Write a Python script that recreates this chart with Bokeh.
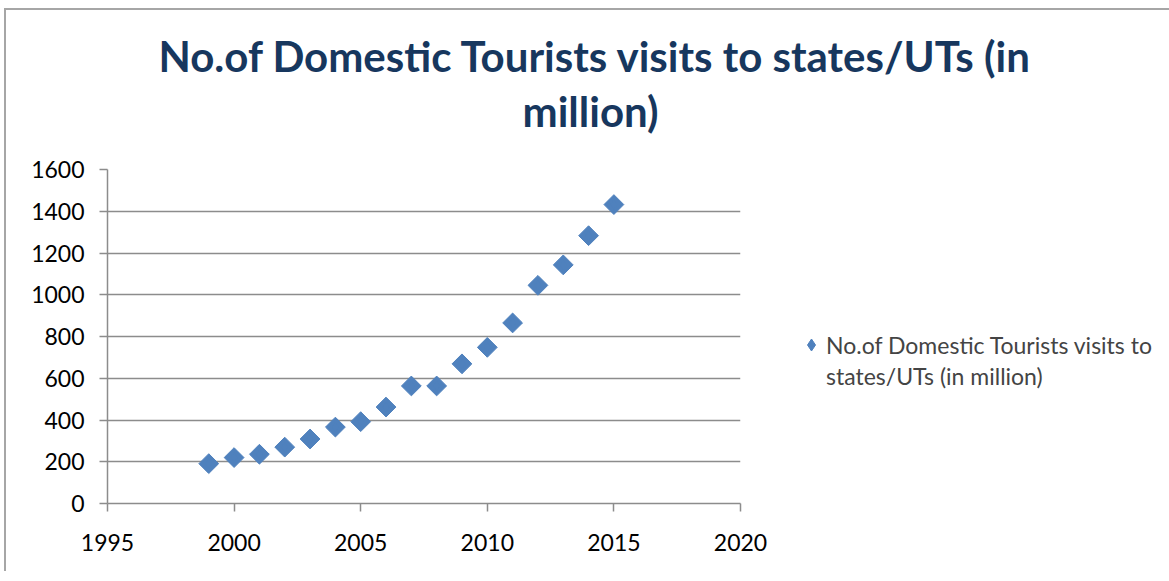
import math
from bokeh.plotting import figure
from bokeh.models import (Range1d, FixedTicker, Title, Legend, LegendItem,
                          ColumnDataSource)
from bokeh.embed import file_html
from bokeh.resources import INLINE

# ---- data ----
years = [1999, 2000, 2001, 2002, 2003, 2004, 2005, 2006, 2007, 2008,
         2009, 2010, 2011, 2012, 2013, 2014, 2015]
visits = [191, 220, 236, 270, 309, 366, 392, 462, 563, 563,
          669, 748, 865, 1045, 1143, 1283, 1432]
x_ticks = [1995, 2000, 2005, 2010, 2015, 2020]
y_ticks = [0, 200, 400, 600, 800, 1000, 1200, 1400, 1600]
legend_lines = ["No.of Domestic Tourists visits to", "states/UTs (in million)"]
title_lines = ["No.of Domestic Tourists visits to states/UTs (in", "million)"]

FONT = "Lato"
GRID = "#8c8c8c"
BLUE = "#4F81BD"

p = figure(frame_width=633, frame_height=334,
           min_border_left=101, min_border_right=420,
           min_border_top=159, min_border_bottom=68,
           x_range=Range1d(1995, 2020), y_range=Range1d(0, 1600),
           output_backend="svg", toolbar_location=None)
p.styles = {"border-left": "2px solid #a6a6a6", "border-top": "2px solid #a6a6a6",
            "margin-left": "4px", "margin-top": "8px"}
p.outline_line_color = None
p.xgrid.grid_line_color = None
p.ygrid.grid_line_color = GRID
p.ygrid.grid_line_width = 1.5

p.xaxis.ticker = FixedTicker(ticks=x_ticks)
p.yaxis.ticker = FixedTicker(ticks=y_ticks)
for ax in (p.xaxis[0], p.yaxis[0]):
    ax.axis_line_color = GRID
    ax.axis_line_width = 1.5
    ax.major_tick_line_color = GRID
    ax.major_tick_line_width = 1.5
    ax.major_tick_out = 8
    ax.major_tick_in = 0
    ax.minor_tick_line_color = None
    ax.major_label_text_font = FONT
    ax.major_label_text_font_size = "23px"
    ax.major_label_text_color = "#000000"
p.xaxis.major_label_standoff = 22
p.yaxis.major_label_standoff = 15

src = ColumnDataSource(dict(x=years, y=visits))
p.scatter("x", "y", source=src, marker="square", size=14, angle=math.pi / 4,
          fill_color=BLUE, line_color=BLUE)
# small diamonds hidden inside the rotated squares: they supply the legend's diamond key
key = p.scatter("x", "y", source=src, marker="diamond", size=10,
                fill_color=BLUE, line_color=BLUE)
blank = p.scatter("x", "y", source=src, marker="diamond", size=10,
                  fill_alpha=0, line_alpha=0)

legend = Legend(items=[LegendItem(label=legend_lines[0], renderers=[key]),
                       LegendItem(label=legend_lines[1], renderers=[blank])],
                location=(56, 112), margin=0, padding=0, spacing=0,
                glyph_width=30, glyph_height=31, label_standoff=0,
                label_text_font=FONT, label_text_font_size="23px",
                border_line_color=None, background_fill_alpha=0)
p.add_layout(legend, "right")

# title: two stacked lines above the plot
p.add_layout(Title(text=title_lines[1], align="left", offset=415,
                   standoff=68, text_font=FONT, text_font_style="bold",
                   text_font_size="42px", text_color="#17375E"), "above")
p.add_layout(Title(text=title_lines[0], align="left", offset=51,
                   standoff=-62, text_font=FONT, text_font_style="bold",
                   text_font_size="42px", text_color="#17375E"), "above")

open("out.html", "w").write(file_html(p, INLINE))
